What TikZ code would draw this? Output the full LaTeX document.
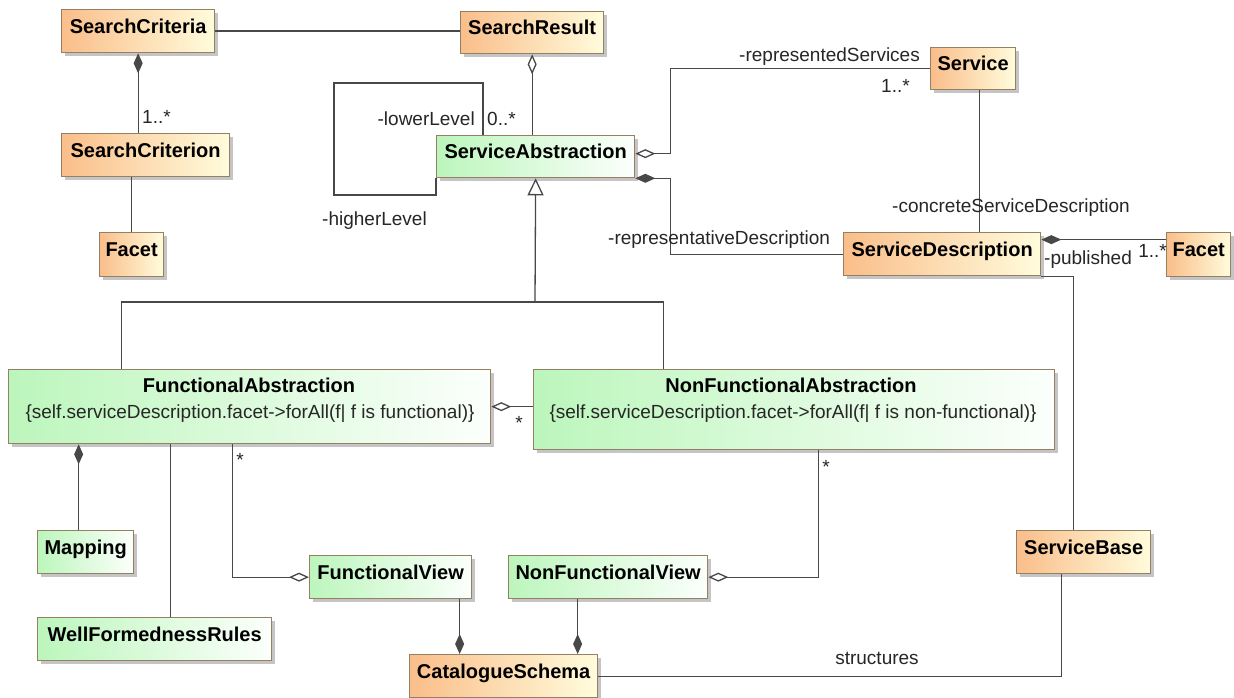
\documentclass[tikz,border=0pt]{standalone}
\usepackage{fontspec}
\setmainfont{Liberation Sans}
\usetikzlibrary{arrows.meta,shadows}

\definecolor{boxline}{RGB}{150,128,100}
\definecolor{linkline}{RGB}{72,72,72}
\definecolor{orangeL}{RGB}{250,190,138}
\definecolor{orangeR}{RGB}{255,252,220}
\definecolor{greenL}{RGB}{188,246,188}
\definecolor{greenR}{RGB}{252,255,252}

\begin{document}
\begin{tikzpicture}[x=1pt,y=-1pt,
    cls/.style={draw=boxline,line width=1.3pt,anchor=north west,minimum height=43pt,inner sep=0pt,
      text height=15pt,text depth=10.6pt,font=\fontsize{20}{24}\selectfont\bfseries,
      drop shadow={shadow xshift=3pt,shadow yshift=-3pt,fill=black!50,opacity=.45}},
    orangecls/.style={cls,left color=orangeL,right color=orangeR},
    greencls/.style={cls,left color=greenL,right color=greenR},
    title/.style={font=\fontsize{20}{24}\selectfont\bfseries,inner sep=0pt,anchor=base},
    role/.style={font=\fontsize{19}{23}\selectfont,inner sep=0pt,text=black!85},
    link/.style={draw=linkline,line width=1.3pt},
    comp/.style={link,{Diamond[length=20pt,width=9pt]}-},
    agg/.style={link,{Diamond[open,length=20pt,width=9pt]}-},
    gen/.style={link,-{Triangle[open,length=17pt,width=16pt]}}]
    \useasboundingbox[fill=white] (0,0) rectangle (1234,698);

    \node[orangecls,minimum width=153pt] (crit) at (61,9) {SearchCriteria};
    \node[orangecls,minimum width=168pt] (crion) at (61,133) {SearchCriterion};
    \node[orangecls,minimum width=64pt,minimum height=44pt] (facetL) at (99,232) {Facet};
    \node[orangecls,minimum width=143pt,minimum height=42pt] (result) at (460,11) {SearchResult};
    \node[greencls,minimum width=198pt,minimum height=42pt] (sa) at (436,135) {ServiceAbstraction};
    \node[orangecls,minimum width=85pt,minimum height=42pt] (service) at (930,47) {Service};
    \node[orangecls,minimum width=197pt] (sd) at (843,232) {ServiceDescription};
    \node[orangecls,minimum width=64pt,minimum height=44pt] (facetR) at (1166,232) {Facet};

    \node[greencls,minimum width=482pt,minimum height=74pt] (fa) at (8,369) {};
    \node[title] (faname) at (249,392) {FunctionalAbstraction};
    \node[role,anchor=base] (facons) at (250,418) {\{self.serviceDescription.facet->forAll(f| f is functional)\}};
    \node[greencls,minimum width=521pt,minimum height=80pt] (nfa) at (533,369) {};
    \node[title] (nfaname) at (791,392) {NonFunctionalAbstraction};
    \node[role,anchor=base] (nfacons) at (793,418) {\{self.serviceDescription.facet->forAll(f| f is non-functional)\}};

    \node[greencls,minimum width=96pt] (mapping) at (37,530) {Mapping};
    \node[greencls,minimum width=234pt] (wfr) at (37,617) {WellFormednessRules};
    \node[greencls,minimum width=162pt] (fv) at (309,555) {FunctionalView};
    \node[greencls,minimum width=199pt] (nfv) at (508,555) {NonFunctionalView};
    \node[orangecls,minimum width=188pt] (cs) at (409,654) {CatalogueSchema};
    \node[orangecls,minimum width=134pt] (sb) at (1016,530) {ServiceBase};

    \draw[link] (crit.east) -- (crit.east -| result.west);
    \draw[comp] (crit.south) -- (crit.south |- crion.north);
    \node[role,anchor=base west] (critmult) at (142,124) {1..*};
    \draw[link] (facetL.north) -- (facetL.north |- crion.south);
    \draw[agg] (result.south) -- (result.south |- sa.north);

    \coordinate (looptop) at (334,83);
    \coordinate (loopbot) at (334,195);
    \draw[link] ([xshift=47pt]sa.north west) |- (looptop) -- (loopbot) -| (sa.south west);
    \node[role,anchor=base east] (lower) at (475,126) {-lowerLevel};
    \node[role,anchor=base west] (lowermult) at (487,126) {0..*};
    \node[role,anchor=base west] (higher) at (322,225) {-higherLevel};

    \draw[agg] ([yshift=3pt]sa.east) -- ++(35,0) |- (service.west);
    \node[role,anchor=base east] (repserv) at (920,62) {-representedServices};
    \node[role,anchor=base west] (servmult) at (881,93) {1..*};
    \draw[comp] (sa.south east) -- ++(35,0) |- (sd.west);
    \node[role,anchor=base west] (repdesc) at (608,244) {-representativeDescription};
    \draw[link] ([xshift=6.5pt]service.south) -- ([xshift=6.5pt]service.south |- sd.north);
    \node[role,anchor=base west] (concdesc) at (892,212) {-concreteServiceDescription};
    \draw[comp] ([yshift=14.5pt]sd.east) -- ([yshift=14.5pt]sd.east -| facetR.west);
    \node[role,anchor=base west] (published) at (1044,264) {-published};
    \node[role,anchor=base east] (facetmult) at (1167,257) {1..*};
    \draw[link] (sd.south east) -| ([xshift=-10pt]sb.north);
    \draw[link] ([xshift=-22pt]sb.south) |- (cs.east);
    \node[role,anchor=base] (structures) at (877,664) {structures};

    \coordinate (genbar) at (535,302);
    \draw[link] ([xshift=-128pt]fa.north) |- (genbar) -| ([xshift=-130.5pt]nfa.north);
    \draw[gen] (genbar) -- (sa.south);

    \draw[agg] (fa.east) -- (fa.east -| nfa.west);
    \node[role,anchor=base] (famult) at (519,429) {*};
    \draw[comp] ([xshift=-7pt]mapping.north |- fa.south) -- ([xshift=-7pt]mapping.north);
    \draw[link] ([xshift=16pt]wfr.north) -- ([xshift=16pt]wfr.north |- fa.south);
    \draw[agg] (fv.west) -| ([xshift=-17pt]fa.south);
    \node[role,anchor=base] (fvmult) at (240,466) {*};
    \draw[agg] (nfv.east) -| ([xshift=24.5pt]nfa.south);
    \node[role,anchor=base] (nfvmult) at (826,473) {*};
    \draw[comp] ([xshift=-44pt]cs.north) -- ([xshift=-44pt]cs.north |- fv.south);
    \draw[comp] ([xshift=74pt]cs.north) -- ([xshift=74pt]cs.north |- nfv.south);
\end{tikzpicture}
\end{document}
